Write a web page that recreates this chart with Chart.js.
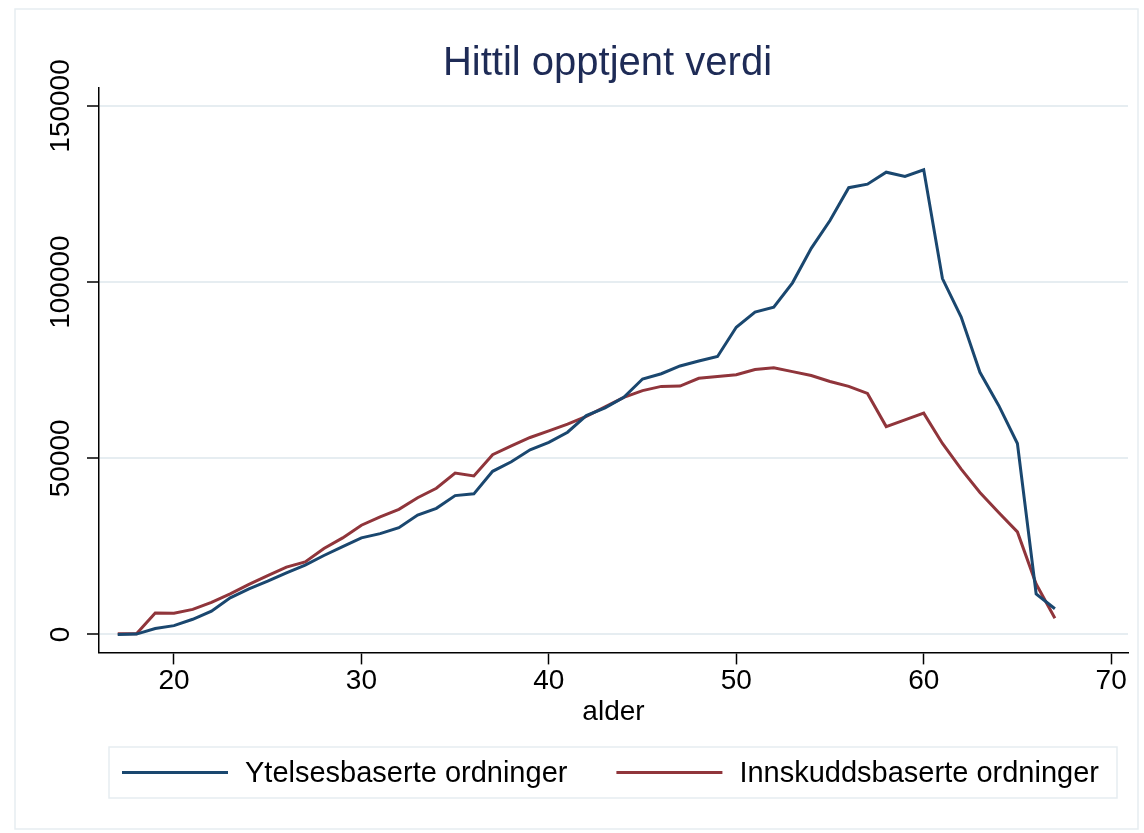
<!DOCTYPE html>
<html>
<head>
<meta charset="utf-8">
<title>Hittil opptjent verdi</title>
<script src="https://cdn.jsdelivr.net/npm/chart.js@4.4.1/dist/chart.umd.min.js"></script>
<style>
    body { margin: 0; background: #ffffff; }
    #wrap { width: 1144px; height: 833px; }
</style>
</head>
<body>
<div id="wrap"><canvas id="chart-verdi" width="1144" height="833"></canvas></div>
<script>
// Data
const alder = [17, 18, 19, 20, 21, 22, 23, 24, 25, 26, 27, 28, 29, 30, 31, 32, 33, 34, 35, 36, 37, 38, 39, 40, 41, 42,
    43, 44, 45, 46, 47, 48, 49, 50, 51, 52, 53, 54, 55, 56, 57, 58, 59, 60, 61, 62, 63, 64, 65, 66, 67]

const ytelse = [0, 100, 1700, 2500, 4300, 6600, 10400, 12900, 15100, 17500, 19700, 22400, 24900, 27400, 28600, 30300,
    33900, 35800, 39400, 39900, 46300, 49000, 52400, 54500, 57400, 62100, 64300, 67300, 72500, 74000, 76200, 77600,
    78900, 87200, 91500, 92900, 99800, 109600, 117500, 126800, 127800, 131200, 130000, 131900, 101000, 90100, 74400,
    65000, 54200, 11500, 7300]

const innskudd = [200, 200, 6100, 6000, 7100, 9100, 11500, 14200, 16700, 19100, 20600, 24400, 27400, 31000, 33400, 35500,
    38800, 41500, 45800, 45000, 51000, 53500, 55900, 57800, 59700, 61900, 64600, 67300, 69200, 70400, 70500, 72700,
    73200, 73700, 75200, 75700, 74600, 73500, 71800, 70400, 68400, 59000, 60900, 62800, 54200, 46900, 40300, 34600,
    29100, 14300, 4600]

const series_labels = ['Ytelsesbaserte ordninger', 'Innskuddsbaserte ordninger']
const x_ticks = [20, 30, 40, 50, 60, 70]
const y_ticks = [0, 50000, 100000, 150000]

// Colors / fonts
const color_blue = '#1a476f'
const color_red = '#90353b'
const color_grid = '#e6edf1'
const color_title = '#1e2b56'
const font_family = "'Liberation Sans', Arial, Helvetica, sans-serif"

const to_points = (ys) => alder.map((a, i) => ({x: a, y: ys[i]}))

// draws the rotated y tick labels, the legend box and the outer frame
const stata_look = {
    id: 'stataLook',
    afterDraw(chart) {
        const ctx = chart.ctx
        const y_scale = chart.scales.y
        const x_scale = chart.scales.x

        ctx.save()

        // outer frame of the graph region
        ctx.strokeStyle = color_grid
        ctx.lineWidth = 1.5
        ctx.strokeRect(15, 9, 1123, 820)

        // vertical y labels
        ctx.fillStyle = '#000000'
        ctx.font = '28px ' + font_family
        ctx.textAlign = 'center'
        ctx.textBaseline = 'middle'
        y_scale.ticks.forEach(t => {
            const py = y_scale.getPixelForValue(t.value)
            ctx.save()
            ctx.translate(61, py)
            ctx.rotate(-Math.PI / 2)
            ctx.fillText(String(t.value), 0, 0)
            ctx.restore()
        })

        // legend
        const box_top = x_scale.bottom + 21
        const box_h = 51
        ctx.strokeRect(109, box_top, 1008, box_h)

        const mid_y = box_top + box_h / 2
        ctx.font = '29px ' + font_family
        ctx.textAlign = 'left'
        let lx = 122
        chart.data.datasets.forEach(ds => {
            ctx.strokeStyle = ds.borderColor
            ctx.lineWidth = 3
            ctx.beginPath()
            ctx.moveTo(lx, mid_y)
            ctx.lineTo(lx + 106, mid_y)
            ctx.stroke()
            ctx.fillStyle = '#000000'
            ctx.fillText(ds.label, lx + 123, mid_y + 1)
            lx += 123 + ctx.measureText(ds.label).width + 49
        })

        ctx.restore()
    }
}

const data = {
    datasets: [{
            label: series_labels[0],
            data: to_points(ytelse),
            borderColor: color_blue,
            backgroundColor: color_blue,
            borderWidth: 3,
            pointRadius: 0,
            tension: 0,
        },
        {
            label: series_labels[1],
            data: to_points(innskudd),
            borderColor: color_red,
            backgroundColor: color_red,
            borderWidth: 3,
            pointRadius: 0,
            tension: 0,
        },
    ]
}

const config = {
    type: 'line',
    data: data,
    plugins: [stata_look],
    options: {
        responsive: false,
        animation: false,
        devicePixelRatio: 1,
        layout: {
            padding: {top: 10, left: 87, right: 16, bottom: 107},
        },
        plugins: {
            legend: {display: false},
            tooltip: {enabled: false},
            title: {
                display: true,
                text: 'Hittil opptjent verdi',
                color: color_title,
                font: {family: font_family, size: 40, weight: 'normal'},
                padding: {top: 30, bottom: 0},
            },
        },
        scales: {
            x: {
                type: 'linear',
                min: 16,
                max: 70.9,
                afterBuildTicks: scale => { scale.ticks = x_ticks.map(v => ({value: v})) },
                grid: {
                    drawOnChartArea: false,
                    drawTicks: true,
                    tickLength: 12,
                    tickColor: '#000000',
                    tickWidth: 1.5,
                },
                border: {color: '#000000', width: 1.5},
                ticks: {
                    color: '#000000',
                    font: {family: font_family, size: 28},
                    padding: 0,
                    maxRotation: 0,
                },
                title: {
                    display: true,
                    text: 'alder',
                    color: '#000000',
                    font: {family: font_family, size: 28, lineHeight: 1},
                    padding: {top: 0, bottom: 0},
                },
            },
            y: {
                type: 'linear',
                min: -5100,
                max: 155100,
                afterBuildTicks: scale => { scale.ticks = y_ticks.map(v => ({value: v})) },
                grid: {
                    color: color_grid,
                    lineWidth: 2,
                    drawTicks: true,
                    tickLength: 12,
                    tickColor: '#000000',
                    tickWidth: 1.5,
                },
                border: {color: '#000000', width: 1.5},
                ticks: {display: false},
            },
        },
    }
}

const context = document.getElementById('chart-verdi').getContext('2d')
const chart = new Chart(context, config)
</script>
</body>
</html>
